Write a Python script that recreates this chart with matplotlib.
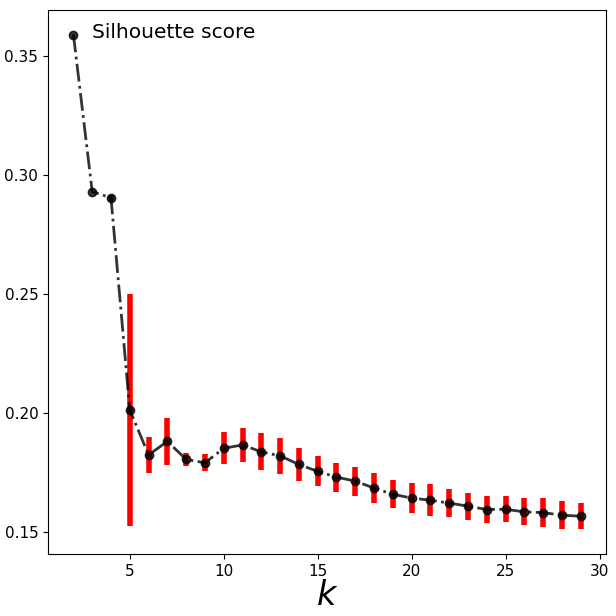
import matplotlib
matplotlib.use('Agg')
import matplotlib.pyplot as plt
import numpy as np

# number of clusters and mean silhouette score with its spread
k_values = list(range(2, 30))
silhouette = [0.3588, 0.2929, 0.2903, 0.2013, 0.1824, 0.1881, 0.1805, 0.1791,
              0.1852, 0.1866, 0.1837, 0.1820, 0.1784, 0.1755, 0.1731, 0.1714,
              0.1685, 0.1659, 0.1643, 0.1634, 0.1622, 0.1609, 0.1595, 0.1596,
              0.1585, 0.1582, 0.1571, 0.1567]
silhouette_std = [0.0, 0.0, 0.0012, 0.0488, 0.0075, 0.0099, 0.0027, 0.0036,
                  0.0067, 0.0073, 0.0077, 0.0075, 0.0069, 0.0063, 0.0061, 0.0061,
                  0.0063, 0.0059, 0.0063, 0.0066, 0.0057, 0.0057, 0.0057, 0.0055,
                  0.0057, 0.0061, 0.0059, 0.0055]

fig = plt.figure(figsize=(6.16, 6.16), dpi=100)
ax = fig.add_axes([0.078, 0.1006, 0.906, 0.8834])

# red spread bars first, then the dash-dot line with markers on top
ax.errorbar(k_values, silhouette, yerr=silhouette_std, fmt='none',
            ecolor='red', elinewidth=4, capsize=0)
ax.plot(k_values, silhouette, '-.o', color='black', alpha=0.8,
        linewidth=2, markersize=6)

ax.text(0.079, 0.958, 'Silhouette score', transform=ax.transAxes, fontsize=14.5,
        va='center', ha='left')

ax.set_xlabel('$k$', fontsize=24, labelpad=0)
ax.set_xticks([5, 10, 15, 20, 25, 30])
ax.set_yticks([0.15, 0.20, 0.25, 0.30, 0.35])
ax.tick_params(labelsize=11)

fig.savefig('out.png', dpi=100)
